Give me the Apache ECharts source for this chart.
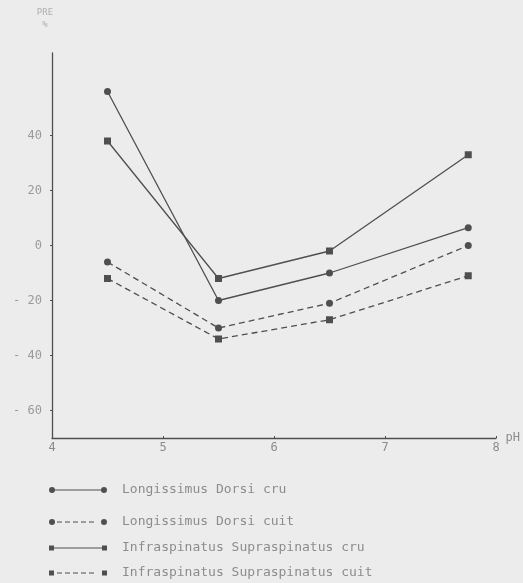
<!DOCTYPE html>
<html>
<head>
<meta charset="utf-8">
<style>
html,body{margin:0;padding:0;background:#ececec;}
#chart{width:523px;height:583px;}
</style>
<script src="https://cdn.jsdelivr.net/npm/echarts@6/dist/echarts.min.js"></script>
</head>
<body>
<div id="chart"></div>
<script>
// Data
const phValues = [4.5, 5.5, 6.5, 7.75];
const ldCru = [56, -20, -10, 6.5];
const ldCuit = [-6, -30, -21, 0];
const isCru = [38, -12, -2, 33];
const isCuit = [-12, -34, -27, -11];
const seriesNames = [
  'Longissimus Dorsi cru',
  'Longissimus Dorsi cuit',
  'Infraspinatus Supraspinatus cru',
  'Infraspinatus Supraspinatus cuit'
];
const yTickValues = [-60, -40, -20, 0, 20, 40];
const xTickValues = [4, 5, 6, 7, 8];

const FONT = 'DejaVu Sans Mono';
const LINE = '#4f4f4f';
const TEXT = '#8c8c8c';

function pairs(ys) { return phValues.map((x, i) => [x, ys[i]]); }

// legend icon paths (58 x 6)
const circL = 'M0,3 A3,3 0 1,1 6,3 A3,3 0 1,1 0,3 Z ';
const circR = 'M52,3 A3,3 0 1,1 58,3 A3,3 0 1,1 52,3 Z ';
const sqL = 'M0,0.5 L5,0.5 L5,5.5 L0,5.5 Z ';
const sqR = 'M53,0.5 L58,0.5 L58,5.5 L53,5.5 Z ';
const solidSeg = 'M5,2.4 L53,2.4 L53,3.6 L5,3.6 Z ';
let dashSeg = '';
[8, 16, 24, 32, 40].forEach(s => { dashSeg += 'M' + s + ',2.4 L' + (s + 5) + ',2.4 L' + (s + 5) + ',3.6 L' + s + ',3.6 Z '; });
const icons = [
  'path://' + circL + solidSeg + circR,
  'path://' + circL + dashSeg + circR,
  'path://' + sqL + solidSeg + sqR,
  'path://' + sqL + dashSeg + sqR
];
const legendCenters = [490, 522, 548, 573];

const chart = echarts.init(document.getElementById('chart'), null, {renderer: 'canvas'});

function mkSeries(name, data, dashed, symbol) {
  return {
    name: name,
    type: 'line',
    data: pairs(data),
    symbol: symbol,
    symbolSize: 7,
    showSymbol: true,
    lineStyle: {color: LINE, width: 1.3, type: dashed ? [6, 4] : 'solid'},
    itemStyle: {color: LINE, borderWidth: 0},
    emphasis: {disabled: true},
    animation: false,
    z: 3
  };
}

const option = {
  backgroundColor: '#ececec',
  animation: false,
  grid: {left: 52, right: 27, top: 53, bottom: 145, containLabel: false},
  xAxis: {
    type: 'value',
    min: 4, max: 8, interval: 1,
    name: 'pH',
    nameLocation: 'end',
    nameGap: 6,
    nameTextStyle: {fontFamily: FONT, fontSize: 12, color: TEXT, padding: [10, 0, 0, 0]},
    axisLine: {show: true, onZero: false, lineStyle: {color: LINE, width: 1.3}},
    axisTick: {show: true, inside: true, length: 2, lineStyle: {color: LINE}, customValues: xTickValues},
    axisLabel: {fontFamily: FONT, fontSize: 12, color: TEXT, margin: 4, customValues: xTickValues},
    splitLine: {show: false}
  },
  yAxis: {
    type: 'value',
    min: -70, max: 70, interval: 10,
    name: 'PRE\n%',
    nameLocation: 'end',
    nameGap: 22,
    nameTextStyle: {fontFamily: FONT, fontSize: 9, color: '#b0b0b0', align: 'center', lineHeight: 12, padding: [0, 14, 0, 0]},
    axisLine: {show: true, onZero: false, lineStyle: {color: LINE, width: 1.3}},
    axisTick: {show: true, inside: false, length: 2, lineStyle: {color: LINE}, customValues: yTickValues},
    axisLabel: {
      fontFamily: FONT, fontSize: 12, color: '#9a9a9a', margin: 10,
      customValues: yTickValues,
      formatter: v => v < 0 ? '- ' + (-v) : String(v)
    },
    splitLine: {show: false}
  },
  legend: seriesNames.map((n, i) => ({
    data: [{name: n, icon: icons[i]}],
    left: 49,
    top: legendCenters[i] - 8,
    padding: 0,
    itemWidth: 58,
    itemHeight: 6,
    selectedMode: false,
    itemStyle: {borderWidth: 0},
    textStyle: {fontFamily: FONT, fontSize: 13, color: TEXT, padding: [0, 0, 0, 10], lineHeight: 16}
  })),
  series: [
    mkSeries(seriesNames[0], ldCru, false, 'circle'),
    mkSeries(seriesNames[1], ldCuit, true, 'circle'),
    mkSeries(seriesNames[2], isCru, false, 'rect'),
    mkSeries(seriesNames[3], isCuit, true, 'rect')
  ]
};
chart.setOption(option);
</script>
</body>
</html>
